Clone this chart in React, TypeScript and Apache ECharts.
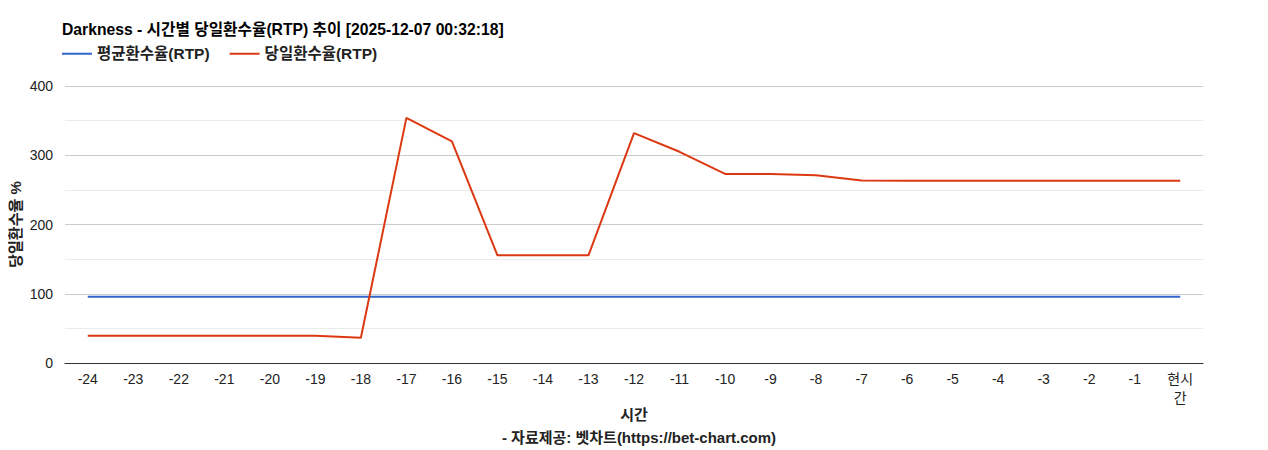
import React, { useEffect, useRef } from 'react'
import * as echarts from 'echarts'

const hours = ['-24', '-23', '-22', '-21', '-20', '-19', '-18', '-17', '-16', '-15', '-14', '-13', '-12', '-11', '-10', '-9', '-8', '-7', '-6', '-5', '-4', '-3', '-2', '-1', '현시간']
const avgRtp = [95.5, 95.5, 95.5, 95.5, 95.5, 95.5, 95.5, 95.5, 95.5, 95.5, 95.5, 95.5, 95.5, 95.5, 95.5, 95.5, 95.5, 95.5, 95.5, 95.5, 95.5, 95.5, 95.5, 95.5, 95.5]
const dailyRtp = [39.5, 39.5, 39.5, 39.5, 39.5, 39.5, 36.5, 354, 320, 155.5, 155.5, 155.5, 332, 305, 273, 273, 271, 263.5, 263, 263, 263, 263, 263, 263, 263]

const FONT = "'Liberation Sans', 'Noto Sans CJK KR', sans-serif"

const App: React.FC = () => {
  const chartRef = useRef<HTMLDivElement>(null)

  useEffect(() => {
    if (!chartRef.current) return
    const chart = echarts.init(chartRef.current, undefined, { renderer: 'svg' })

    const option: echarts.EChartsOption = {
      animation: false,
      textStyle: { fontFamily: FONT },
      title: {
        text: 'Darkness - 시간별 당일환수율(RTP) 추이 [2025-12-07 00:32:18]',
        left: 54,
        top: 14,
        padding: 0,
        textStyle: { fontSize: 15.7, fontWeight: 'bold', color: '#000', fontFamily: FONT }
      },
      legend: {
        left: 54,
        top: 38,
        padding: 0,
        icon: 'rect',
        itemWidth: 30,
        itemHeight: 2,
        itemGap: 20,
        textStyle: { fontSize: 15.5, fontWeight: 'bold', color: '#222', fontFamily: FONT }
      },
      grid: { left: 57, right: 57, top: 78, bottom: 87, outerBoundsMode: 'none' } as any,
      graphic: [
        {
          type: 'text',
          x: 631,
          y: 429,
          style: {
            text: '- 자료제공: 벳차트(https://bet-chart.com)',
            fontSize: 15,
            fontWeight: 'bold',
            fill: '#222',
            fontFamily: FONT,
            textAlign: 'center',
            textVerticalAlign: 'middle'
          }
        }
      ],
      xAxis: {
        type: 'category',
        data: hours,
        name: '시간',
        nameLocation: 'middle',
        nameGap: 51,
        nameMoveOverlap: false,
        nameTextStyle: { fontSize: 15, fontWeight: 'bold', color: '#222', fontFamily: FONT, verticalAlign: 'middle' },
        axisLine: { lineStyle: { color: '#333', width: 1 } },
        axisTick: { show: false },
        axisLabel: {
          interval: 0,
          fontSize: 14,
          color: '#222',
          margin: 6,
          lineHeight: 19,
          formatter: (v: string) => (v === '현시간' ? '현시\n간' : v)
        }
      } as any,
      yAxis: {
        type: 'value',
        min: 0,
        max: 400,
        interval: 100,
        name: '당일환수율 %',
        nameLocation: 'middle',
        nameGap: 42,
        nameMoveOverlap: false,
        nameTextStyle: { fontSize: 15, fontWeight: 'bold', color: '#222', fontFamily: FONT },
        axisLine: { show: false },
        axisTick: { show: false },
        axisLabel: { fontSize: 14, color: '#222', margin: 12 },
        splitLine: { lineStyle: { color: '#cccccc', width: 1 } },
        minorTick: { show: false, splitNumber: 2 },
        minorSplitLine: { show: true, lineStyle: { color: '#ebebeb', width: 1 } }
      } as any,
      series: [
        {
          name: '평균환수율(RTP)',
          type: 'line',
          data: avgRtp,
          symbol: 'none',
          lineStyle: { color: '#3366cc', width: 2 },
          itemStyle: { color: '#3366cc' }
        },
        {
          name: '당일환수율(RTP)',
          type: 'line',
          data: dailyRtp,
          symbol: 'none',
          lineStyle: { color: '#dc3912', width: 2 },
          itemStyle: { color: '#dc3912' }
        }
      ]
    }

    chart.setOption(option)
    return () => {
      chart.dispose()
    }
  }, [])

  return <div ref={chartRef} style={{ width: '100%', height: 442 }} />
}

export default App
